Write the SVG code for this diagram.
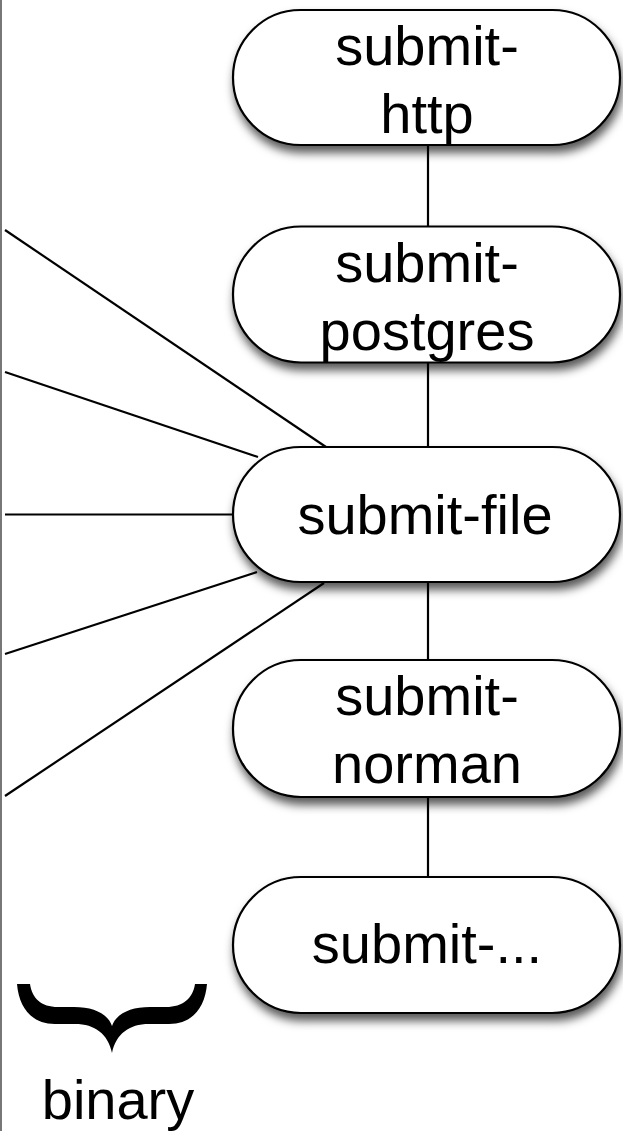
<svg xmlns="http://www.w3.org/2000/svg" width="623" height="1131" viewBox="0 0 623 1131">
<style>
.node{fill:#fff;stroke:#000;stroke-width:2.2;filter:url(#sh)}
.lbl{font-family:"Liberation Sans",Arial,Helvetica,sans-serif;font-size:56px;fill:#000;text-anchor:middle}
.conn line{stroke:#000;stroke-width:2.2}
</style>
<defs>
<filter id="sh" x="-10%" y="-20%" width="125%" height="155%">
<feDropShadow dx="2" dy="7" stdDeviation="5" flood-color="#000" flood-opacity="0.65"/>
</filter>
</defs>
<rect x="0" y="0" width="623" height="1131" fill="#fff"/>
<rect x="0" y="0" width="2" height="1131" fill="#777"/>
<g id="connectors" class="conn">
<line x1="428" y1="145" x2="428" y2="226"/>
<line x1="428" y1="363" x2="428" y2="447"/>
<line x1="428" y1="582" x2="428" y2="660"/>
<line x1="428" y1="797" x2="428" y2="877"/>
<line x1="5" y1="230" x2="326" y2="447"/>
<line x1="5" y1="372" x2="258" y2="457"/>
<line x1="5" y1="514.5" x2="234" y2="514.5"/>
<line x1="5" y1="654" x2="257" y2="572"/>
<line x1="5" y1="796" x2="324" y2="583"/>
</g>
<g id="submit-http">
<rect class="node" x="233" y="10" width="387" height="135" rx="67.5"/>
<text class="lbl" x="427" y="65">submit-</text>
<text class="lbl" x="427" y="133">http</text>
</g>
<g id="submit-postgres">
<rect class="node" x="233" y="226.5" width="387" height="136" rx="68"/>
<text class="lbl" x="427" y="282">submit-</text>
<text class="lbl" x="427" y="350">postgres</text>
</g>
<g id="submit-file">
<rect class="node" x="233" y="447" width="387" height="135" rx="67.5"/>
<text class="lbl" x="425" y="534">submit-file</text>
</g>
<g id="submit-norman">
<rect class="node" x="233" y="660" width="387" height="137" rx="68"/>
<text class="lbl" x="427" y="715">submit-</text>
<text class="lbl" x="427" y="783">norman</text>
</g>
<g id="submit-etc">
<rect class="node" x="233" y="877" width="387" height="136" rx="68"/>
<text class="lbl" x="427" y="963">submit-...</text>
</g>
<g id="binary">
<path d="M17,984 C19,1008 32,1024 55,1024 L75,1024 C95,1024 108,1034 112,1053 C116,1034 129,1024 149,1024 L169,1024 C192,1024 205,1008 207,984 L195,984 C193,998 183,1007 166,1007 L150,1007 C130,1007 116,1014 112,1026 C108,1014 94,1007 74,1007 L58,1007 C41,1007 32,998 30,984 Z" fill="#000"/>
<text class="lbl" x="118" y="1119">binary</text>
</g>
</svg>
